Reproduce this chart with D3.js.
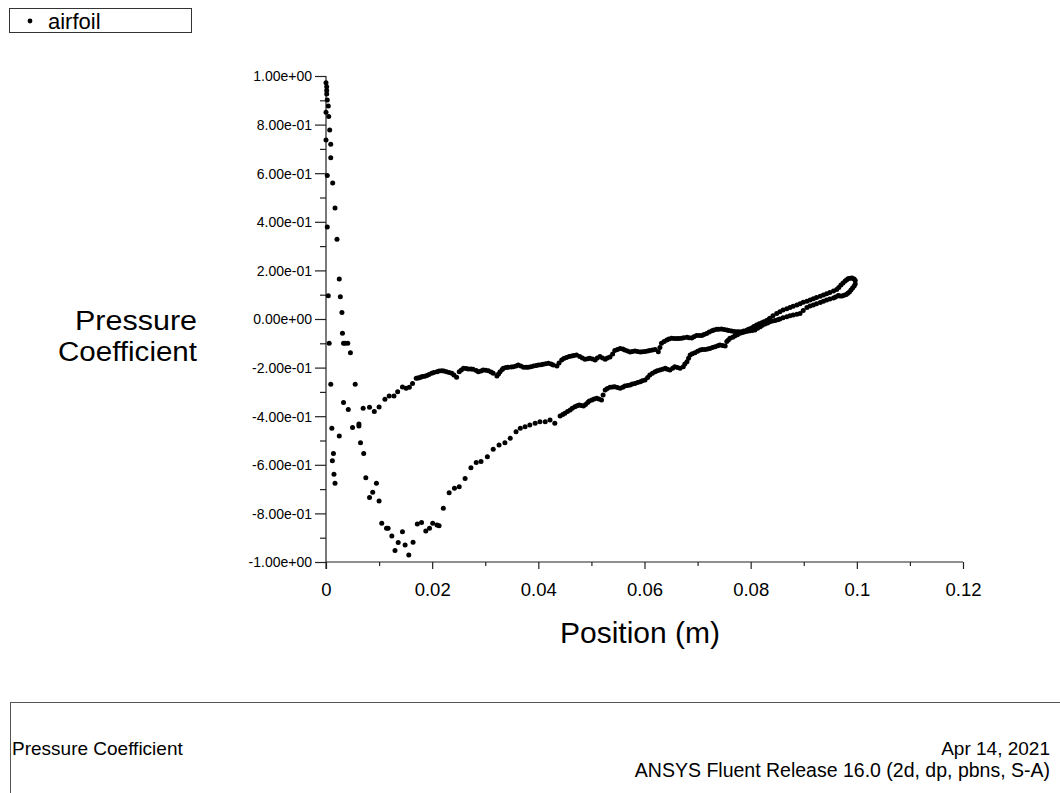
<!DOCTYPE html>
<html>
<head>
<meta charset="utf-8">
<script src="https://cdn.jsdelivr.net/npm/d3@7"></script>
<style>
  html, body { margin: 0; padding: 0; background: #fff; }
  svg { display: block; }
  text { font-family: "Liberation Sans", Arial, Helvetica, sans-serif; fill: #000; }
</style>
</head>
<body>
<svg id="chart" width="1060" height="793"></svg>
<script>
// Pressure coefficient along the airfoil wall, Position (m) vs Cp.
// Pressure side of the wall: stagnation region, then the upper branch.
const pressureX = [
  0.0000, 0.00013, 0.00013, 0.00013, 0.00024, 0.00043, 0.0000, 0.00051, 0.0007, 0.0000,
  0.00089, 0.00089, 0.00126, 0.0017, 0.00207, 0.0025, 0.0027, 0.0030, 0.0031, 0.0033,
  0.0036, 0.0041, 0.0046, 0.0055, 0.0033, 0.0042,
  0.0070, 0.0082, 0.0091, 0.0100, 0.0111, 0.0119, 0.0128, 0.0135, 0.0144, 0.0151,
  0.0157, 0.0163,
  0.0170, 0.0173, 0.0176, 0.0179, 0.0182, 0.0186, 0.0190, 0.0194, 0.0199, 0.0203,
  0.0209, 0.0213, 0.0218, 0.0222, 0.0227, 0.0232, 0.0237, 0.0241, 0.0246, 0.0251,
  0.0255, 0.0259, 0.0264, 0.0268, 0.0273, 0.0277, 0.0283, 0.0287, 0.0292, 0.0296,
  0.0301, 0.0306, 0.0311, 0.0315, 0.0322, 0.0325, 0.0328, 0.0332, 0.0334, 0.0339,
  0.0343, 0.0349, 0.0353, 0.0358, 0.0362, 0.0367, 0.0372, 0.0377, 0.0381, 0.0386,
  0.0391, 0.0396, 0.0400, 0.0405, 0.0409, 0.0414, 0.0419, 0.0424, 0.0428, 0.0435,
  0.0439, 0.0444, 0.0448, 0.0453, 0.0458, 0.0463, 0.0467, 0.0472, 0.0478, 0.0483,
  0.0488, 0.0493, 0.0497, 0.0502, 0.0507, 0.0511, 0.0516, 0.0521, 0.0526, 0.0530,
  0.0535, 0.0540, 0.0544, 0.0549, 0.0554, 0.0559, 0.0563, 0.0568, 0.0573, 0.0577,
  0.0582, 0.0587, 0.0592, 0.0596, 0.0601, 0.0606, 0.0610, 0.0615, 0.0620, 0.0626,
  0.0629, 0.0632, 0.0637, 0.0642, 0.0646, 0.0651, 0.0656, 0.0661, 0.0665, 0.0670,
  0.0674, 0.0680, 0.0684, 0.0689, 0.0693, 0.0698, 0.0703, 0.0708, 0.0712, 0.0717,
  0.0722, 0.0727, 0.0731, 0.0736, 0.0740, 0.0745, 0.0750, 0.0755, 0.0759, 0.0764,
  0.0769, 0.0774, 0.0778, 0.0783, 0.0787, 0.0793, 0.0797, 0.0802, 0.0806, 0.0811,
  0.0816, 0.0821, 0.0825, 0.0830, 0.0834, 0.0836, 0.0842, 0.0849, 0.0855, 0.0861,
  0.0868, 0.0874, 0.0880, 0.0887, 0.0893, 0.0899, 0.0906, 0.0912, 0.0918, 0.0924,
  0.0931, 0.0937, 0.0943, 0.0949, 0.0956, 0.0962, 0.0966, 0.0970, 0.0974, 0.0978,
  0.0981, 0.0984, 0.0988, 0.0991, 0.0995, 0.0997
];
const pressureCp = [
  0.972, 0.956, 0.940, 0.926, 0.901, 0.877, 0.851, 0.833, 0.778, 0.737,
  0.719, 0.664, 0.560, 0.457, 0.328, 0.165, 0.092, 0.027, -0.059, -0.100,
  -0.100, -0.100, -0.139, -0.269, -0.344, -0.372,
  -0.367, -0.363, -0.381, -0.362, -0.330, -0.317, -0.317, -0.299, -0.280, -0.285,
  -0.281, -0.265,
  -0.244, -0.243, -0.242, -0.239, -0.237, -0.236, -0.233, -0.228, -0.223, -0.220,
  -0.217, -0.214, -0.213, -0.214, -0.217, -0.220, -0.223, -0.230, -0.240, -0.217,
  -0.210, -0.203, -0.204, -0.206, -0.206, -0.207, -0.212, -0.217, -0.214, -0.210,
  -0.211, -0.213, -0.218, -0.223, -0.235, -0.226, -0.217, -0.208, -0.203, -0.200,
  -0.199, -0.198, -0.196, -0.193, -0.189, -0.193, -0.199, -0.199, -0.199, -0.196,
  -0.193, -0.191, -0.189, -0.188, -0.186, -0.184, -0.182, -0.185, -0.189, -0.193,
  -0.181, -0.169, -0.163, -0.158, -0.154, -0.152, -0.150, -0.148, -0.154, -0.160,
  -0.166, -0.164, -0.162, -0.165, -0.169, -0.160, -0.154, -0.160, -0.166, -0.160,
  -0.156, -0.144, -0.130, -0.126, -0.121, -0.123, -0.128, -0.132, -0.136, -0.134,
  -0.132, -0.134, -0.136, -0.135, -0.134, -0.132, -0.130, -0.128, -0.125, -0.135,
  -0.117, -0.100, -0.093, -0.086, -0.082, -0.079, -0.080, -0.080, -0.080, -0.079,
  -0.077, -0.075, -0.077, -0.078, -0.073, -0.068, -0.068, -0.068, -0.064, -0.060,
  -0.053, -0.048, -0.045, -0.042, -0.042, -0.041, -0.043, -0.045, -0.047, -0.049,
  -0.051, -0.052, -0.052, -0.052, -0.049, -0.045, -0.041, -0.037, -0.031, -0.025,
  -0.020, -0.015, -0.011, -0.006, -0.002, 0.003, 0.013, 0.023, 0.030, 0.037,
  0.042, 0.047, 0.052, 0.058, 0.063, 0.069, 0.073, 0.078, 0.083, 0.088,
  0.094, 0.099, 0.104, 0.109, 0.115, 0.121, 0.130, 0.140, 0.148, 0.156,
  0.162, 0.167, 0.168, 0.169, 0.165, 0.158
];

// Suction side of the wall: steep drop near the leading edge, minimum near x = 0.015 m.
const suctionX = [
  0.00024, 0.00024, 0.00043, 0.0006, 0.0009, 0.0011, 0.0014, 0.0012, 0.0015, 0.0017,
  0.0025, 0.0050, 0.0062, 0.0062, 0.0065, 0.0071, 0.0075, 0.0082, 0.0088, 0.0095,
  0.0100, 0.0105, 0.0114, 0.0117, 0.0124, 0.0130, 0.0136, 0.0144, 0.0149, 0.0156,
  0.0164, 0.0172, 0.0180, 0.0188, 0.0195, 0.0201, 0.0209, 0.0213, 0.0221, 0.0232,
  0.0242, 0.0251, 0.0262, 0.0273, 0.0283, 0.0292, 0.0304, 0.0315, 0.0326, 0.0337,
  0.0347, 0.0358, 0.0366, 0.0375, 0.0384, 0.0394, 0.0403, 0.0413, 0.0422, 0.0431,
  0.0441, 0.0446, 0.0450, 0.0455, 0.0460, 0.0464, 0.0469, 0.0473, 0.0477, 0.0481,
  0.0485, 0.0489, 0.0493, 0.0496, 0.0501, 0.0505, 0.0510, 0.0514, 0.0519, 0.0522,
  0.0526, 0.0530, 0.0535, 0.0540, 0.0544, 0.0549, 0.0554, 0.0559, 0.0563, 0.0568,
  0.0573, 0.0577, 0.0582, 0.0587, 0.0592, 0.0596, 0.0601, 0.0606, 0.0610, 0.0615,
  0.0620, 0.0624, 0.0629, 0.0634, 0.0639, 0.0643, 0.0648, 0.0653, 0.0657, 0.0662,
  0.0667, 0.0673, 0.0676, 0.0680, 0.0683, 0.0686, 0.0690, 0.0695, 0.0700, 0.0705,
  0.0709, 0.0714, 0.0719, 0.0723, 0.0728, 0.0733, 0.0738, 0.0742, 0.0747, 0.0752,
  0.0755, 0.0758, 0.0761, 0.0766, 0.0770, 0.0775, 0.0780, 0.0785, 0.0789, 0.0794,
  0.0799, 0.0803, 0.0808, 0.0813, 0.0818, 0.0822, 0.0827, 0.0832, 0.0836, 0.0841,
  0.0846, 0.0851, 0.0855, 0.0861, 0.0868, 0.0874, 0.0880, 0.0887, 0.0893, 0.0899,
  0.0906, 0.0912, 0.0918, 0.0924, 0.0931, 0.0937, 0.0943, 0.0949, 0.0956, 0.0960,
  0.0965, 0.0968, 0.0972, 0.0976, 0.0980, 0.0983, 0.0986, 0.0989, 0.0992, 0.0995,
  0.0997
];
const suctionCp = [
  0.591, 0.379, 0.096, -0.100, -0.269, -0.450, -0.553, -0.583, -0.639, -0.676,
  -0.481, -0.446, -0.432, -0.440, -0.509, -0.554, -0.653, -0.735, -0.713, -0.676,
  -0.749, -0.841, -0.861, -0.861, -0.893, -0.953, -0.920, -0.875, -0.930, -0.971,
  -0.919, -0.844, -0.837, -0.872, -0.861, -0.841, -0.848, -0.851, -0.779, -0.715,
  -0.697, -0.690, -0.656, -0.612, -0.591, -0.586, -0.567, -0.536, -0.519, -0.509,
  -0.491, -0.464, -0.450, -0.443, -0.436, -0.429, -0.423, -0.423, -0.416, -0.429,
  -0.399, -0.393, -0.388, -0.381, -0.374, -0.367, -0.361, -0.357, -0.354, -0.356,
  -0.358, -0.352, -0.344, -0.337, -0.333, -0.329, -0.326, -0.329, -0.333, -0.313,
  -0.292, -0.286, -0.281, -0.280, -0.279, -0.282, -0.285, -0.281, -0.276, -0.274,
  -0.272, -0.268, -0.265, -0.261, -0.258, -0.254, -0.251, -0.241, -0.230, -0.223,
  -0.217, -0.213, -0.210, -0.207, -0.203, -0.207, -0.210, -0.203, -0.196, -0.200,
  -0.203, -0.196, -0.185, -0.176, -0.162, -0.148, -0.143, -0.139, -0.133, -0.128,
  -0.126, -0.125, -0.123, -0.121, -0.117, -0.114, -0.110, -0.107, -0.109, -0.111,
  -0.093, -0.086, -0.079, -0.075, -0.070, -0.065, -0.059, -0.056, -0.052, -0.050,
  -0.048, -0.047, -0.045, -0.038, -0.032, -0.026, -0.021, -0.016, -0.011, -0.008,
  -0.006, -0.003, 0.000, 0.005, 0.009, 0.013, 0.016, 0.020, 0.023, 0.035,
  0.047, 0.053, 0.058, 0.063, 0.068, 0.073, 0.078, 0.082, 0.086, 0.091,
  0.097, 0.095, 0.095, 0.098, 0.101, 0.106, 0.111, 0.119, 0.128, 0.136,
  0.144
];

// Axis ticks and their labels
const xMajorTicks = [0, 0.02, 0.04, 0.06, 0.08, 0.1, 0.12];
const xTickLabels = ["0", "0.02", "0.04", "0.06", "0.08", "0.1", "0.12"];
const xMinorTicks = [0.01, 0.03, 0.05, 0.07, 0.09, 0.11];
const yMajorTicks = [-1, -0.8, -0.6, -0.4, -0.2, 0, 0.2, 0.4, 0.6, 0.8, 1];
const yTickLabels = ["-1.00e+00", "-8.00e-01", "-6.00e-01", "-4.00e-01", "-2.00e-01",
  "0.00e+00", "2.00e-01", "4.00e-01", "6.00e-01", "8.00e-01", "1.00e+00"];
const yMinorTicks = [-0.9, -0.7, -0.5, -0.3, -0.1, 0.1, 0.3, 0.5, 0.7, 0.9];

const seriesName = "airfoil";
const xTitle = "Position (m)";
const yTitleLines = ["Pressure", "Coefficient"];
const footerTitle = "Pressure Coefficient";
const footerDate = "Apr 14, 2021";
const footerRelease = "ANSYS Fluent Release 16.0 (2d, dp, pbns, S-A)";

const svg = d3.select("#chart");

const x = d3.scaleLinear().domain([0, 0.12]).range([326, 963]);
const y = d3.scaleLinear().domain([-1, 1]).range([562, 76]);

// Legend box
const legend = svg.append("g");
legend.append("rect")
  .attr("x", 9.5).attr("y", 8.5).attr("width", 182).attr("height", 24)
  .attr("fill", "#fff").attr("stroke", "#333").attr("stroke-width", 1);
legend.append("circle").attr("cx", 30).attr("cy", 21).attr("r", 2.4).attr("fill", "#000");
legend.append("text").attr("x", 48).attr("y", 28.5)
  .attr("font-size", 22).text(seriesName);

// Y axis: major ticks with narrow labels, then minor ticks
const yAxisMajor = d3.axisLeft(y)
  .tickValues(yMajorTicks)
  .tickSize(11)
  .tickPadding(3)
  .tickFormat((d, i) => yTickLabels[i]);
const gy = svg.append("g").attr("transform", "translate(326,0)").call(yAxisMajor);
gy.select(".domain").remove();
gy.selectAll(".tick line").attr("stroke", "#222").attr("stroke-width", 1.2);
gy.selectAll(".tick text")
  .attr("font-size", 15.5).attr("fill", "#000")
  .style("font-family", '"Liberation Sans", Arial, sans-serif')
  .each(function () {
    const w = this.getComputedTextLength();
    d3.select(this)
      .attr("textLength", w * 14 / 15.5)
      .attr("lengthAdjust", "spacingAndGlyphs");
  });

const gyMinor = svg.append("g").attr("transform", "translate(326,0)")
  .call(d3.axisLeft(y).tickValues(yMinorTicks).tickSize(6).tickFormat(""));
gyMinor.select(".domain").remove();
gyMinor.selectAll(".tick line").attr("stroke", "#222").attr("stroke-width", 1.2);

// X axis
const xAxisMajor = d3.axisBottom(x)
  .tickValues(xMajorTicks)
  .tickSize(7)
  .tickPadding(14)
  .tickFormat((d, i) => xTickLabels[i]);
const gx = svg.append("g").attr("transform", "translate(0,562)").call(xAxisMajor);
gx.select(".domain").remove();
gx.selectAll(".tick line").attr("stroke", "#222").attr("stroke-width", 1.2);
gx.selectAll(".tick text").attr("font-size", 18.5).attr("fill", "#000")
  .style("font-family", '"Liberation Sans", Arial, sans-serif');

const gxMinor = svg.append("g").attr("transform", "translate(0,562)")
  .call(d3.axisBottom(x).tickValues(xMinorTicks).tickSize(4).tickFormat(""));
gxMinor.select(".domain").remove();
gxMinor.selectAll(".tick line").attr("stroke", "#222").attr("stroke-width", 1.2);

// Axis lines
svg.append("line")
  .attr("x1", x(0)).attr("x2", x(0)).attr("y1", y(1)).attr("y2", y(-1) + 7)
  .attr("stroke", "#222").attr("stroke-width", 1.2);
svg.append("line")
  .attr("x1", x(0)).attr("x2", x(0.12)).attr("y1", y(-1)).attr("y2", y(-1))
  .attr("stroke", "#222").attr("stroke-width", 1.2);

// Axis titles; the y title is two right-aligned lines, stretched to the panel's wide lettering
svg.append("text")
  .attr("x", 640).attr("y", 643)
  .attr("text-anchor", "middle").attr("font-size", 30).text(xTitle);
const yTitleWidths = [122, 139];
yTitleLines.forEach((t, i) => {
  svg.append("text")
    .attr("x", 197 - yTitleWidths[i]).attr("y", 329.5 + i * 31.5)
    .attr("font-size", 27)
    .attr("textLength", yTitleWidths[i])
    .attr("lengthAdjust", "spacingAndGlyphs")
    .text(t);
});

// Data points
const points = pressureX.map((v, i) => ({ x: v, cp: pressureCp[i] }))
  .concat(suctionX.map((v, i) => ({ x: v, cp: suctionCp[i] })));
svg.append("g").selectAll("circle")
  .data(points)
  .join("circle")
  .attr("cx", d => x(d.x))
  .attr("cy", d => y(d.cp))
  .attr("r", 2.5)
  .attr("fill", "#000");

// Footer panel
svg.append("rect")
  .attr("x", 10.5).attr("y", 702.5).attr("width", 1070).attr("height", 120)
  .attr("fill", "none").attr("stroke", "#555").attr("stroke-width", 1);
svg.append("text").attr("x", 12).attr("y", 755).attr("font-size", 19).text(footerTitle);
svg.append("text").attr("x", 1050).attr("y", 755).attr("text-anchor", "end")
  .attr("font-size", 19).text(footerDate);
svg.append("text").attr("x", 1050).attr("y", 777).attr("text-anchor", "end")
  .attr("font-size", 19.5).text(footerRelease);
</script>
</body>
</html>
